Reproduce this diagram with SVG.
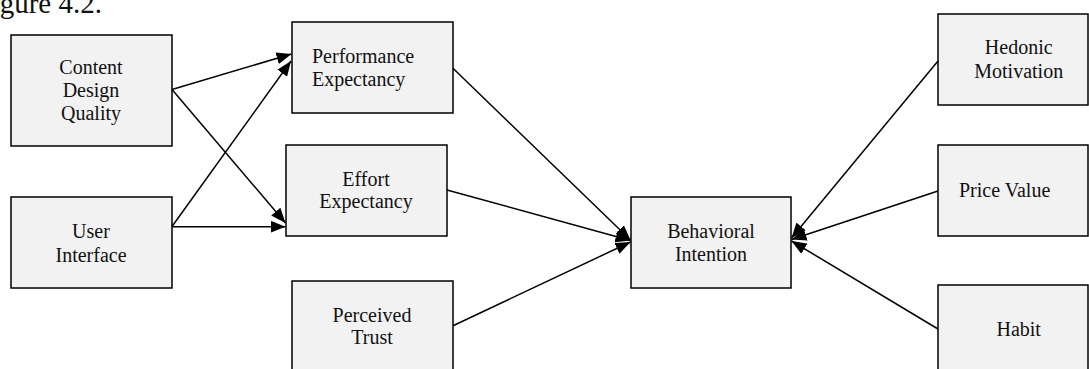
<svg xmlns="http://www.w3.org/2000/svg" width="1089" height="369" viewBox="0 0 1089 369">
<style>
.box{fill:#f2f2f2;stroke:#000;stroke-width:1.5}
.t{font-family:"Liberation Serif","Times New Roman",serif;font-size:20px;fill:#111}
.c{text-anchor:middle}
.ln{stroke:#000;stroke-width:1.5;fill:none;marker-end:url(#ah)}
</style>
<defs>
<marker id="ah" viewBox="0 0 15 12" refX="15" refY="6" markerWidth="15" markerHeight="12" markerUnits="userSpaceOnUse" orient="auto">
<path d="M0,0 L15,6 L0,12 z" fill="#000"/>
</marker>
</defs>
<rect width="1089" height="369" fill="#fff"/>
<text class="t" x="102" y="13" text-anchor="end" style="font-size:29px">Figure 4.2.</text>
<g id="cdq">
<rect class="box" x="11" y="35" width="161" height="111"/>
<text class="t c" x="91" y="73.5">Content</text>
<text class="t c" x="91" y="96.5">Design</text>
<text class="t c" x="91" y="119.5">Quality</text>
</g>
<g id="ui">
<rect class="box" x="11" y="197" width="161" height="91"/>
<text class="t c" x="91" y="238.3">User</text>
<text class="t c" x="91" y="261.7">Interface</text>
</g>
<g id="pe">
<rect class="box" x="292" y="22" width="161" height="91"/>
<text class="t" x="312" y="63.3">Performance</text>
<text class="t" x="312" y="86">Expectancy</text>
</g>
<g id="ee">
<rect class="box" x="286" y="145" width="161" height="91"/>
<text class="t c" x="366" y="185.7">Effort</text>
<text class="t c" x="366" y="208.3">Expectancy</text>
</g>
<g id="pt">
<rect class="box" x="292" y="281" width="161" height="100"/>
<text class="t c" x="372" y="321.7">Perceived</text>
<text class="t c" x="372" y="344.3">Trust</text>
</g>
<g id="bi">
<rect class="box" x="631" y="197" width="160" height="91"/>
<text class="t c" x="711" y="238.3">Behavioral</text>
<text class="t c" x="711" y="260.7">Intention</text>
</g>
<g id="hm">
<rect class="box" x="938" y="14" width="150" height="91"/>
<text class="t c" x="1018.7" y="54.3">Hedonic</text>
<text class="t c" x="1018.7" y="77.7">Motivation</text>
</g>
<g id="pv">
<rect class="box" x="938" y="145" width="150" height="91"/>
<text class="t" x="959" y="197">Price Value</text>
</g>
<g id="habit">
<rect class="box" x="938" y="285" width="150" height="100"/>
<text class="t c" x="1018.7" y="336">Habit</text>
</g>
<g id="connectors">
<line class="ln" x1="172" y1="89.5" x2="291.5" y2="54"/>
<line class="ln" x1="172" y1="89.5" x2="285.5" y2="223"/>
<line class="ln" x1="172" y1="226.5" x2="291" y2="61"/>
<line class="ln" x1="172" y1="226.7" x2="285.5" y2="226.7"/>
<line class="ln" x1="453" y1="68.3" x2="630.5" y2="240"/>
<line class="ln" x1="447" y1="190" x2="630.5" y2="240.5"/>
<line class="ln" x1="453" y1="325.7" x2="630.5" y2="242"/>
<line class="ln" x1="938" y1="61" x2="791.5" y2="238"/>
<line class="ln" x1="938" y1="191" x2="791.5" y2="239.5"/>
<line class="ln" x1="938" y1="329" x2="791.5" y2="241"/>
</g>
</svg>
